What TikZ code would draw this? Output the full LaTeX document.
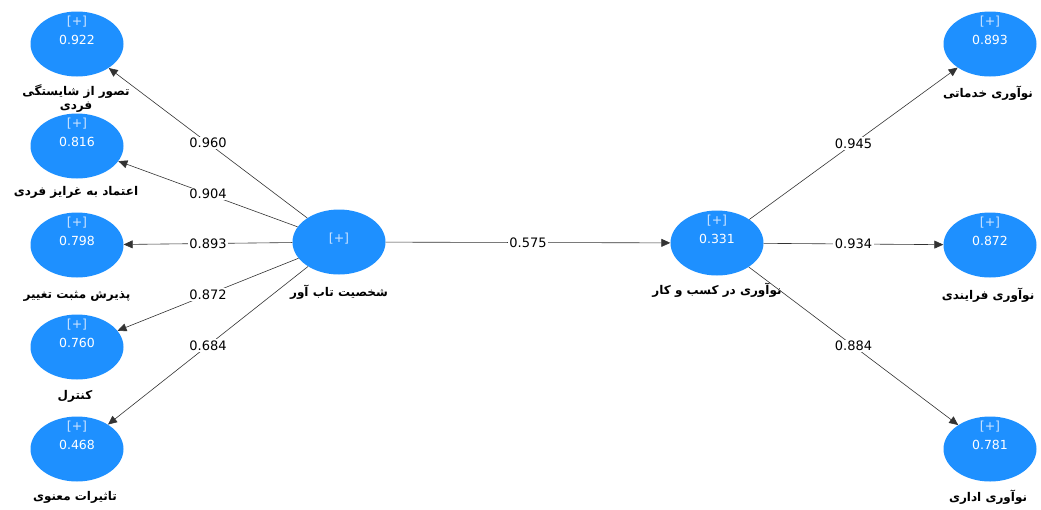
\documentclass[tikz,border=0pt]{standalone}
\usepackage{fontspec}
\setmainfont{DejaVu Sans}
\newfontfamily\fafont[Script=Arabic]{DejaVu Sans}
\TeXXeTstate=1
\usetikzlibrary{shapes.geometric, arrows.meta, positioning}

\definecolor{latblue}{RGB}{30,144,255}
\definecolor{pluscol}{RGB}{205,228,255}

% text inside a latent variable: [+] above the value
\newcommand{\latin}[1]{\smash{\begin{tabular}[b]{@{}c@{}}{\color{pluscol}[+]}\\[5pt]#1\end{tabular}}}
% persian caption
\newcommand{\fa}[1]{{\fafont\bfseries\beginR #1\endR}}

\begin{document}
\begin{tikzpicture}[
        x=1pt, y=-1pt,
        % --- styles ---
        latent/.style={
                ellipse,
                fill=latblue,
                draw=none,
                inner sep=0pt,
                minimum width=93pt,
                minimum height=65pt,
                text=white,
                font=\fontsize{12.5}{14}\selectfont
            },
        caption/.style={
                align=center,
                inner sep=1pt,
                font=\fontsize{12}{13}\selectfont
            },
        conn/.style={
                draw=black!80,
                line width=0.6pt,
                -{Triangle[length=9pt, width=8pt]}
            },
        coef/.style={
                midway,
                fill=white,
                inner sep=1.5pt,
                font=\fontsize{13}{14}\selectfont
            }
    ]
    \useasboundingbox (0,0) rectangle (1041,509);

    % 1. Latent variables
    \node[latent] (resil) at (339,242) {\latin{}};
    \node[latent] (innov) at (717,243) {\latin{0.331}};

    % 2. Dimensions of resilient personality
    \node[latent] (compet) at (77,44)  {\latin{0.922}};
    \node[latent] (instinct) at (77,146) {\latin{0.816}};
    \node[latent] (change) at (77,245) {\latin{0.798}};
    \node[latent] (control) at (77,347) {\latin{0.760}};
    \node[latent] (spirit) at (77,449) {\latin{0.468}};

    % 3. Dimensions of business innovation
    \node[latent] (service) at (990,44)  {\latin{0.893}};
    \node[latent] (process) at (990,245) {\latin{0.872}};
    \node[latent] (admin) at (990,449) {\latin{0.781}};

    % 4. Captions
    \node[caption] (resil-c) at (339,292) {\fa{شخصیت تاب آور}};
    \node[caption] (innov-c) at (717,290) {\fa{نوآوری در کسب و کار}};
    \node[caption] (compet-c) at (76,99) {\fa{تصور از شایستگی}\\[1pt]\fa{فردی}};
    \node[caption] (instinct-c) at (76,192) {\fa{اعتماد به غرایز فردی}};
    \node[caption] (change-c) at (77,296) {\fa{پذیرش مثبت تغییر}};
    \node[caption] (control-c) at (75,396) {\fa{کنترل}};
    \node[caption] (spirit-c) at (75,497) {\fa{تاثیرات معنوی}};
    \node[caption] (service-c) at (988,93) {\fa{نوآوری خدماتی}};
    \node[caption] (process-c) at (988,295) {\fa{نوآوری فرایندی}};
    \node[caption] (admin-c) at (988,497) {\fa{نوآوری اداری}};

    % 5. Paths
    \draw[conn] (resil) -- node[coef] {0.960} (compet);
    \draw[conn] (resil) -- node[coef] {0.904} (instinct);
    \draw[conn] (resil) -- node[coef] {0.893} (change);
    \draw[conn] (resil) -- node[coef] {0.872} (control);
    \draw[conn] (resil) -- node[coef] {0.684} (spirit);

    \draw[conn] (resil) -- node[coef] {0.575} (innov);

    \draw[conn] (innov) -- node[coef] {0.945} (service);
    \draw[conn] (innov) -- node[coef] {0.934} (process);
    \draw[conn] (innov) -- node[coef] {0.884} (admin);

\end{tikzpicture}
\end{document}
